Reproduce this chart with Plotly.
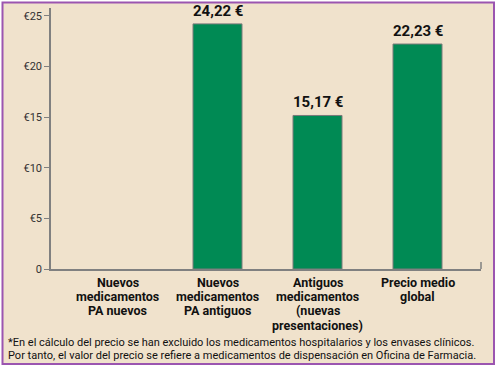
import plotly.graph_objects as go

categories = ["Nuevos<br>medicamentos<br>PA nuevos",
              "Nuevos<br>medicamentos<br>PA antiguos",
              "Antiguos<br>medicamentos<br>(nuevas<br>presentaciones)",
              "Precio medio<br>global"]
values = [None, 24.22, 15.17, 22.23]
value_labels = ["", "24,22 €", "15,17 €", "22,23 €"]
ytick_vals = [0, 5, 10, 15, 20, 25]
ytick_text = ["0", "€5", "€10", "€15", "€20", "€25"]
footnote = ["*En el cálculo del precio se han excluido los medicamentos hospitalarios y los envases clínicos.",
            "Por tanto, el valor del precio se refiere a medicamentos de dispensación en Oficina de Farmacia."]

FONT = "Roboto, Liberation Sans Narrow, Arial Narrow, sans-serif"
W, H = 497, 367
L, R, T, B = 51, 16, 8, 98
pw, ph = W - L - R, H - T - B

def px_x(p):
    return (p - L) / pw

def px_y(p):
    return (H - B - p) / ph

xs = list(range(len(categories)))

fig = go.Figure()
fig.add_trace(go.Bar(
    x=xs, y=values, width=0.49,
    marker=dict(color="#008a54", line=dict(color="#7a7a7a", width=1)),
    hoverinfo="skip",
))

annotations = []
for i, (v, lab) in enumerate(zip(values, value_labels)):
    if v is not None:
        annotations.append(dict(x=i, y=v, xref="x", yref="y", text="<b>" + lab + "</b>",
                                showarrow=False, yanchor="bottom", yshift=3, borderpad=0,
                                font=dict(family=FONT, size=15, color="#111")))
for i, cat in enumerate(categories):
    for k, line in enumerate(cat.split("<br>")):
        annotations.append(dict(x=i, y=0, xref="x", yref="y", text="<b>" + line + "</b>",
                                showarrow=False, yanchor="top", yshift=-5 - 14.2 * k,
                                borderpad=0,
                                font=dict(family=FONT, size=12.5, color="#111")))
for k, line in enumerate(footnote):
    annotations.append(dict(x=px_x(7), y=px_y(335 + 13 * k), xref="paper", yref="paper",
                            text=line, showarrow=False, xanchor="left", yanchor="top",
                            borderpad=0,
                            font=dict(family=FONT, size=11, color="#111")))

shapes = [
    dict(type="rect", xref="paper", yref="paper", layer="below",
         x0=px_x(2.5), x1=px_x(494), y0=px_y(364), y1=px_y(2.5),
         fillcolor="#f0e2cc", line=dict(color="#9b55b0", width=2)),
    dict(type="line", xref="paper", yref="paper",
         x0=1, x1=1, y0=0, y1=px_y(262),
         line=dict(color="#808080", width=1.5)),
]

fig.update_layout(
    width=W, height=H,
    margin=dict(l=L, r=R, t=T, b=B, pad=0),
    paper_bgcolor="white", plot_bgcolor="rgba(0,0,0,0)",
    showlegend=False,
    annotations=annotations, shapes=shapes,
    xaxis=dict(range=[-0.665, 3.635], showticklabels=False, ticks="",
               showgrid=False, zeroline=False, showline=True,
               linecolor="#808080", linewidth=1.5, fixedrange=True),
    yaxis=dict(range=[0, 25.79], tickvals=ytick_vals, ticktext=ytick_text,
               ticks="outside", ticklen=5, tickcolor="#808080", tickwidth=1,
               showgrid=False, zeroline=False, showline=True,
               linecolor="#808080", linewidth=1.5,
               tickfont=dict(family=FONT, size=11, color="#333"), fixedrange=True),
)

fig.write_html("out.html", config={"displayModeBar": False},
               post_script="document.body.style.margin='0px';")
